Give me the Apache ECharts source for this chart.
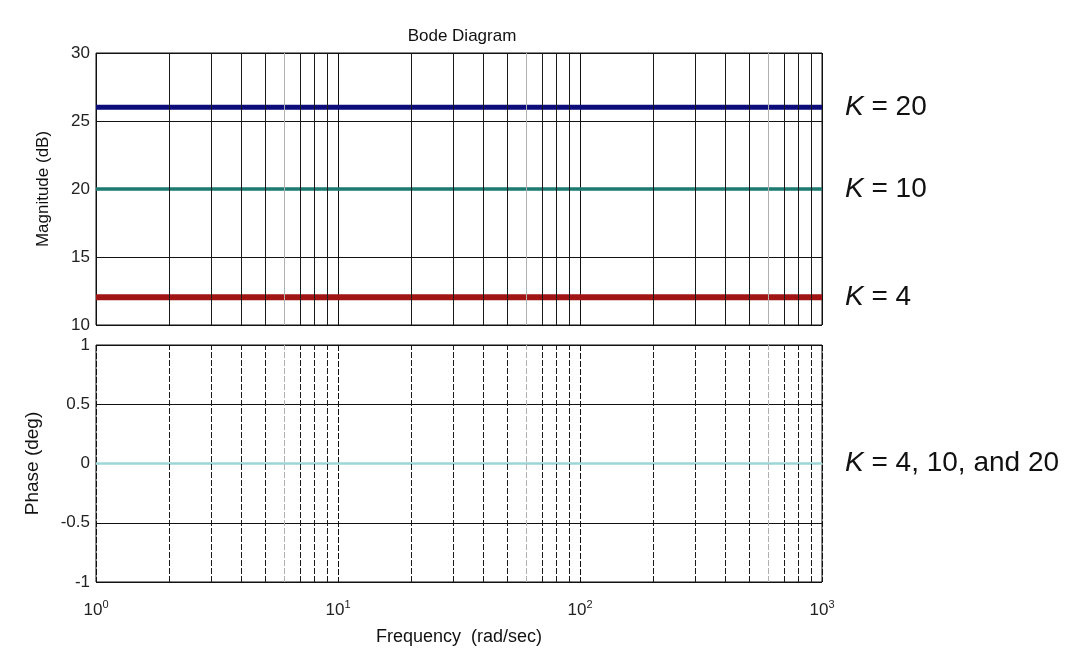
<!DOCTYPE html>
<html>
<head>
<meta charset="utf-8">
<script src="https://cdn.jsdelivr.net/npm/echarts@6/dist/echarts.min.js"></script>
<style>
html,body{margin:0;padding:0;background:#fff;}
#chart{width:1067px;height:652px;}
</style>
</head>
<body>
<div id="chart"></div>
<script>
// ---- data ----
const freqs = [1, 10, 100, 1000];
const magK20 = [26.02, 26.02, 26.02, 26.02];
const magK10 = [20, 20, 20, 20];
const magK4 = [12.04, 12.04, 12.04, 12.04];
const phaseK = [0, 0, 0, 0];
const minorGridFreqs = [2, 3, 4, 5, 7, 8, 9, 20, 30, 40, 50, 70, 80, 90, 200, 300, 400, 500, 700, 800, 900];
const lightGridFreqs = [6, 60, 600];
const labelK20 = 'K = 20';
const labelK10 = 'K = 10';
const labelK4 = 'K = 4';
const labelPhase = 'K = 4, 10, and 20';

const FONT = '"Liberation Sans", Arial, sans-serif';
const pairs = (ys) => freqs.map((f, i) => [f, ys[i]]);

function kLabel(text) {
  return {
    show: true,
    distance: 23,
    formatter: () => '{k|K}{r|' + text.slice(1) + '}',
    rich: {
      k: { fontFamily: FONT, fontStyle: 'italic', fontSize: 28, color: '#111' },
      r: { fontFamily: FONT, fontSize: 28, color: '#111' }
    }
  };
}

function gridSeries(xi, dashed) {
  const mk = (arr, color) => arr.map(v => ({ xAxis: v, lineStyle: { color: color, width: 1, type: dashed ? [6, 2] : 'solid' } }));
  return {
    type: 'line', xAxisIndex: xi, yAxisIndex: xi, data: [], z: 1, silent: true,
    markLine: {
      silent: true, symbol: 'none', label: { show: false },
      animation: false,
      data: mk(minorGridFreqs, '#1a1a1a').concat(mk(lightGridFreqs, '#b0b0b0'))
    }
  };
}

const supLabel = (v) => {
  const e = Math.round(Math.log10(v));
  return '{b|10}{s|' + e + '}';
};

const chart = echarts.init(document.getElementById('chart'), null, { renderer: 'canvas' });
chart.setOption({
  backgroundColor: '#ffffff',
  animation: false,
  title: {
    text: 'Bode Diagram', left: 457, top: 23, textAlign: 'center',
    textStyle: { fontFamily: FONT, fontSize: 17, fontWeight: 'normal', color: '#111' }
  },
  grid: [
    { left: 96, top: 53, width: 726, height: 272, show: true, borderColor: '#111', borderWidth: 1, backgroundColor: 'transparent' },
    { left: 96, top: 345, width: 726, height: 237, show: true, borderColor: '#111', borderWidth: 1, backgroundColor: 'transparent' }
  ],
  xAxis: [
    {
      type: 'log', logBase: 10, min: 1, max: 1000, gridIndex: 0,
      axisLine: { show: false }, axisTick: { show: false }, axisLabel: { show: false },
      splitLine: { show: true, lineStyle: { color: '#111', width: 1 } }
    },
    {
      type: 'log', logBase: 10, min: 1, max: 1000, gridIndex: 1,
      axisLine: { show: false }, axisTick: { show: false },
      axisLabel: {
        margin: 17, formatter: supLabel,
        rich: {
          b: { fontFamily: FONT, fontSize: 17, color: '#222' },
          s: { fontFamily: FONT, fontSize: 11, color: '#222', verticalAlign: 'top', padding: [0, 0, 12, 0] }
        }
      },
      splitLine: { show: true, lineStyle: { color: '#111', width: 1, type: [6, 2] } },
      name: 'Frequency  (rad/sec)', nameLocation: 'middle', nameGap: 46,
      nameTextStyle: { fontFamily: FONT, fontSize: 18, color: '#111' }
    }
  ],
  yAxis: [
    {
      type: 'value', min: 10, max: 30, interval: 5, gridIndex: 0,
      axisLine: { show: false }, axisTick: { show: false },
      axisLabel: { margin: 6, fontFamily: FONT, fontSize: 17, color: '#222' },
      splitLine: { show: true, lineStyle: { color: '#111', width: 1 } },
      name: 'Magnitude (dB)', nameLocation: 'middle', nameGap: 44, nameRotate: 90,
      nameTextStyle: { fontFamily: FONT, fontSize: 17, color: '#111' }
    },
    {
      type: 'value', min: -1, max: 1, interval: 0.5, gridIndex: 1,
      axisLine: { show: false }, axisTick: { show: false },
      axisLabel: { margin: 6, fontFamily: FONT, fontSize: 17, color: '#222' },
      splitLine: { show: true, lineStyle: { color: '#111', width: 1 } },
      name: 'Phase (deg)', nameLocation: 'middle', nameGap: 54, nameRotate: 90,
      nameTextStyle: { fontFamily: FONT, fontSize: 19, color: '#111' }
    }
  ],
  series: [
    gridSeries(0, false),
    gridSeries(1, true),
    {
      name: 'K = 20', type: 'line', xAxisIndex: 0, yAxisIndex: 0, z: 3, symbol: 'none',
      data: pairs(magK20), lineStyle: { color: '#0c0c7a', width: 5 },
      endLabel: kLabel(labelK20)
    },
    {
      name: 'K = 10', type: 'line', xAxisIndex: 0, yAxisIndex: 0, z: 3, symbol: 'none',
      data: pairs(magK10), lineStyle: { color: '#1d7a70', width: 3.5 },
      endLabel: kLabel(labelK10)
    },
    {
      name: 'K = 4', type: 'line', xAxisIndex: 0, yAxisIndex: 0, z: 3, symbol: 'none',
      data: pairs(magK4), lineStyle: { color: '#a01414', width: 6 },
      endLabel: kLabel(labelK4)
    },
    {
      name: 'Phase', type: 'line', xAxisIndex: 1, yAxisIndex: 1, z: 3, symbol: 'none',
      data: pairs(phaseK), lineStyle: { color: '#9ed6d6', width: 2.5 },
      endLabel: kLabel(labelPhase)
    }
  ]
});
</script>
</body>
</html>
